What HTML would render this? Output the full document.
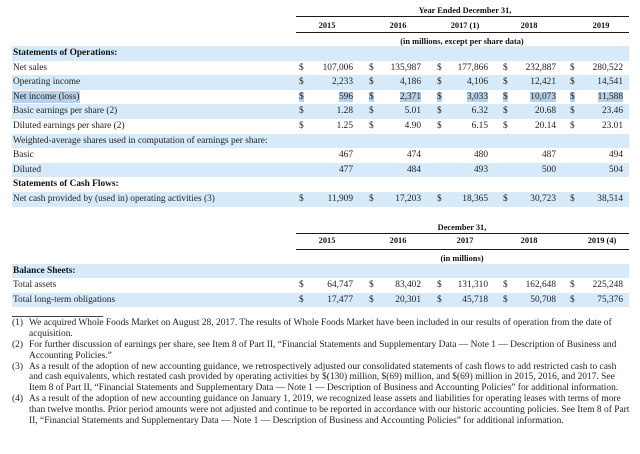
<!DOCTYPE html>
<html><head><meta charset="utf-8">
<style>
html,body{margin:0;padding:0;background:#fff;}
body{width:640px;height:454px;position:relative;overflow:hidden;font-family:"Liberation Serif","Times New Roman",serif;color:#222;}
.a{position:absolute;white-space:nowrap;}
.band{position:absolute;left:12px;width:617px;height:14.6px;background:#d6eafa;}
.t{position:absolute;font-size:9.35px;line-height:14.6px;height:14.6px;white-space:nowrap;}
.b{font-weight:bold;color:#111;}
.h{position:absolute;font-size:8.4px;font-weight:bold;color:#111;text-align:center;white-space:nowrap;width:140px;}
.line{position:absolute;left:296px;width:333px;height:1.3px;background:#1a1a1a;}
.hl{background:#b7d1ec;}
.fn{position:absolute;font-size:9.45px;line-height:10.9px;white-space:nowrap;color:#222;}
</style></head><body>

<!-- TOP TABLE HEADER -->
<div class="h" style="left:395px;top:5px;line-height:12px;">Year Ended December 31,</div>
<div class="line" style="top:16px;"></div>
<div class="h" style="left:257px;top:20px;line-height:12px;">2015</div>
<div class="h" style="left:328px;top:20px;line-height:12px;">2016</div>
<div class="h" style="left:395px;top:20px;line-height:12px;">2017 (1)</div>
<div class="h" style="left:459px;top:20px;line-height:12px;">2018</div>
<div class="h" style="left:531px;top:20px;line-height:12px;">2019</div>
<div class="line" style="top:32px;"></div>
<div class="h" style="left:392px;top:36px;line-height:12px;">(in millions, except per share data)</div>

<!-- BANDS -->
<div class="band" style="top:46px;"></div>
<div class="band" style="top:75.2px;"></div>
<div class="band" style="top:104.4px;"></div>
<div class="band" style="top:133.6px;"></div>
<div class="band" style="top:162.8px;"></div>
<div class="band" style="top:192px;"></div>

<!-- LABELS -->
<div class="t b" style="left:13px;top:46px;">Statements of Operations:</div>
<div class="t" style="left:13px;top:60.6px;">Net sales</div>
<div class="t" style="left:13px;top:75.2px;">Operating income</div>
<div class="t" style="left:12px;top:89.8px;"><span class="hl" style="padding:1px 1px;">Net income (loss)</span></div>
<div class="t" style="left:13px;top:104.4px;">Basic earnings per share (2)</div>
<div class="t" style="left:13px;top:119px;">Diluted earnings per share (2)</div>
<div class="t" style="left:13px;top:133.6px;">Weighted-average shares used in computation of earnings per share:</div>
<div class="t" style="left:13px;top:148.2px;">Basic</div>
<div class="t" style="left:13px;top:162.8px;">Diluted</div>
<div class="t b" style="left:13px;top:177.4px;">Statements of Cash Flows:</div>
<div class="t" style="left:13px;top:192px;">Net cash provided by (used in) operating activities (3)</div>

<!-- DOLLAR SIGNS -->
<div class="t" style="left:299px;top:60.6px;">$</div><div class="t" style="left:369px;top:60.6px;">$</div><div class="t" style="left:437px;top:60.6px;">$</div><div class="t" style="left:503px;top:60.6px;">$</div><div class="t" style="left:570px;top:60.6px;">$</div>
<div class="t" style="left:299px;top:75.2px;">$</div><div class="t" style="left:369px;top:75.2px;">$</div><div class="t" style="left:437px;top:75.2px;">$</div><div class="t" style="left:503px;top:75.2px;">$</div><div class="t" style="left:570px;top:75.2px;">$</div>
<div class="t" style="left:299px;top:89.8px;"><span class="hl">$</span></div><div class="t" style="left:369px;top:89.8px;"><span class="hl">$</span></div><div class="t" style="left:437px;top:89.8px;"><span class="hl">$</span></div><div class="t" style="left:503px;top:89.8px;"><span class="hl">$</span></div><div class="t" style="left:570px;top:89.8px;"><span class="hl">$</span></div>
<div class="t" style="left:299px;top:104.4px;">$</div><div class="t" style="left:369px;top:104.4px;">$</div><div class="t" style="left:437px;top:104.4px;">$</div><div class="t" style="left:503px;top:104.4px;">$</div><div class="t" style="left:570px;top:104.4px;">$</div>
<div class="t" style="left:299px;top:119px;">$</div><div class="t" style="left:369px;top:119px;">$</div><div class="t" style="left:437px;top:119px;">$</div><div class="t" style="left:503px;top:119px;">$</div><div class="t" style="left:570px;top:119px;">$</div>
<div class="t" style="left:299px;top:192px;">$</div><div class="t" style="left:369px;top:192px;">$</div><div class="t" style="left:437px;top:192px;">$</div><div class="t" style="left:503px;top:192px;">$</div><div class="t" style="left:570px;top:192px;">$</div>

<!-- NUMBERS -->
<div class="t" style="right:287px;top:60.6px;">107,006</div><div class="t" style="right:219px;top:60.6px;">135,987</div><div class="t" style="right:152px;top:60.6px;">177,866</div><div class="t" style="right:84px;top:60.6px;">232,887</div><div class="t" style="right:17px;top:60.6px;">280,522</div>
<div class="t" style="right:287px;top:75.2px;">2,233</div><div class="t" style="right:219px;top:75.2px;">4,186</div><div class="t" style="right:152px;top:75.2px;">4,106</div><div class="t" style="right:84px;top:75.2px;">12,421</div><div class="t" style="right:17px;top:75.2px;">14,541</div>
<div class="t" style="right:287px;top:89.8px;"><span class="hl">596</span></div><div class="t" style="right:219px;top:89.8px;"><span class="hl">2,371</span></div><div class="t" style="right:152px;top:89.8px;"><span class="hl">3,033</span></div><div class="t" style="right:84px;top:89.8px;"><span class="hl">10,073</span></div><div class="t" style="right:17px;top:89.8px;"><span class="hl">11,588</span></div>
<div class="t" style="right:287px;top:104.4px;">1.28</div><div class="t" style="right:219px;top:104.4px;">5.01</div><div class="t" style="right:152px;top:104.4px;">6.32</div><div class="t" style="right:84px;top:104.4px;">20.68</div><div class="t" style="right:17px;top:104.4px;">23.46</div>
<div class="t" style="right:287px;top:119px;">1.25</div><div class="t" style="right:219px;top:119px;">4.90</div><div class="t" style="right:152px;top:119px;">6.15</div><div class="t" style="right:84px;top:119px;">20.14</div><div class="t" style="right:17px;top:119px;">23.01</div>
<div class="t" style="right:287px;top:148.2px;">467</div><div class="t" style="right:219px;top:148.2px;">474</div><div class="t" style="right:152px;top:148.2px;">480</div><div class="t" style="right:84px;top:148.2px;">487</div><div class="t" style="right:17px;top:148.2px;">494</div>
<div class="t" style="right:287px;top:162.8px;">477</div><div class="t" style="right:219px;top:162.8px;">484</div><div class="t" style="right:152px;top:162.8px;">493</div><div class="t" style="right:84px;top:162.8px;">500</div><div class="t" style="right:17px;top:162.8px;">504</div>
<div class="t" style="right:287px;top:192px;">11,909</div><div class="t" style="right:219px;top:192px;">17,203</div><div class="t" style="right:152px;top:192px;">18,365</div><div class="t" style="right:84px;top:192px;">30,723</div><div class="t" style="right:17px;top:192px;">38,514</div>

<!-- LOWER TABLE -->
<div class="h" style="left:392px;top:222px;line-height:12px;">December 31,</div>
<div class="line" style="top:233px;"></div>
<div class="h" style="left:257px;top:235px;line-height:12px;">2015</div>
<div class="h" style="left:328px;top:235px;line-height:12px;">2016</div>
<div class="h" style="left:395px;top:235px;line-height:12px;">2017</div>
<div class="h" style="left:459px;top:235px;line-height:12px;">2018</div>
<div class="h" style="left:532px;top:235px;line-height:12px;">2019 (4)</div>
<div class="line" style="top:249px;"></div>
<div class="h" style="left:392px;top:253px;line-height:12px;">(in millions)</div>

<div class="band" style="top:263.6px;"></div>
<div class="band" style="top:292.8px;"></div>
<div class="t b" style="left:13px;top:263.6px;">Balance Sheets:</div>
<div class="t" style="left:13px;top:278.2px;">Total assets</div>
<div class="t" style="left:13px;top:292.8px;">Total long-term obligations</div>

<div class="t" style="left:299px;top:278.2px;">$</div><div class="t" style="left:369px;top:278.2px;">$</div><div class="t" style="left:437px;top:278.2px;">$</div><div class="t" style="left:503px;top:278.2px;">$</div><div class="t" style="left:570px;top:278.2px;">$</div>
<div class="t" style="left:299px;top:292.8px;">$</div><div class="t" style="left:369px;top:292.8px;">$</div><div class="t" style="left:437px;top:292.8px;">$</div><div class="t" style="left:503px;top:292.8px;">$</div><div class="t" style="left:570px;top:292.8px;">$</div>
<div class="t" style="right:287px;top:278.2px;">64,747</div><div class="t" style="right:219px;top:278.2px;">83,402</div><div class="t" style="right:152px;top:278.2px;">131,310</div><div class="t" style="right:84px;top:278.2px;">162,648</div><div class="t" style="right:17px;top:278.2px;">225,248</div>
<div class="t" style="right:287px;top:292.8px;">17,477</div><div class="t" style="right:219px;top:292.8px;">20,301</div><div class="t" style="right:152px;top:292.8px;">45,718</div><div class="t" style="right:84px;top:292.8px;">50,708</div><div class="t" style="right:17px;top:292.8px;">75,376</div>

<!-- FOOTNOTES -->
<div class="a" style="left:12px;top:316px;width:91px;height:1px;background:#444;"></div>
<div class="fn" style="left:12px;top:317.9px;">(1)</div>
<div class="fn" style="left:29px;top:317.9px;">We acquired Whole Foods Market on August 28, 2017. The results of Whole Foods Market have been included in our results of operation from the date of</div>
<div class="fn" style="left:29px;top:328.8px;">acquisition.</div>
<div class="fn" style="left:12px;top:339.7px;">(2)</div>
<div class="fn" style="left:29px;top:339.7px;">For further discussion of earnings per share, see Item 8 of Part II, “Financial Statements and Supplementary Data — Note 1 — Description of Business and</div>
<div class="fn" style="left:29px;top:350.6px;">Accounting Policies.”</div>
<div class="fn" style="left:12px;top:361.5px;">(3)</div>
<div class="fn" style="left:29px;top:361.5px;">As a result of the adoption of new accounting guidance, we retrospectively adjusted our consolidated statements of cash flows to add restricted cash to cash</div>
<div class="fn" style="left:29px;top:372.4px;">and cash equivalents, which restated cash provided by operating activities by $(130) million, $(69) million, and $(69) million in 2015, 2016, and 2017. See</div>
<div class="fn" style="left:29px;top:383.3px;">Item 8 of Part II, “Financial Statements and Supplementary Data — Note 1 — Description of Business and Accounting Policies” for additional information.</div>
<div class="fn" style="left:12px;top:394.2px;">(4)</div>
<div class="fn" style="left:29px;top:394.2px;">As a result of the adoption of new accounting guidance on January 1, 2019, we recognized lease assets and liabilities for operating leases with terms of more</div>
<div class="fn" style="left:29px;top:405.1px;">than twelve months. Prior period amounts were not adjusted and continue to be reported in accordance with our historic accounting policies. See Item 8 of Part</div>
<div class="fn" style="left:29px;top:416px;">II, “Financial Statements and Supplementary Data — Note 1 — Description of Business and Accounting Policies” for additional information.</div>

</body></html>
